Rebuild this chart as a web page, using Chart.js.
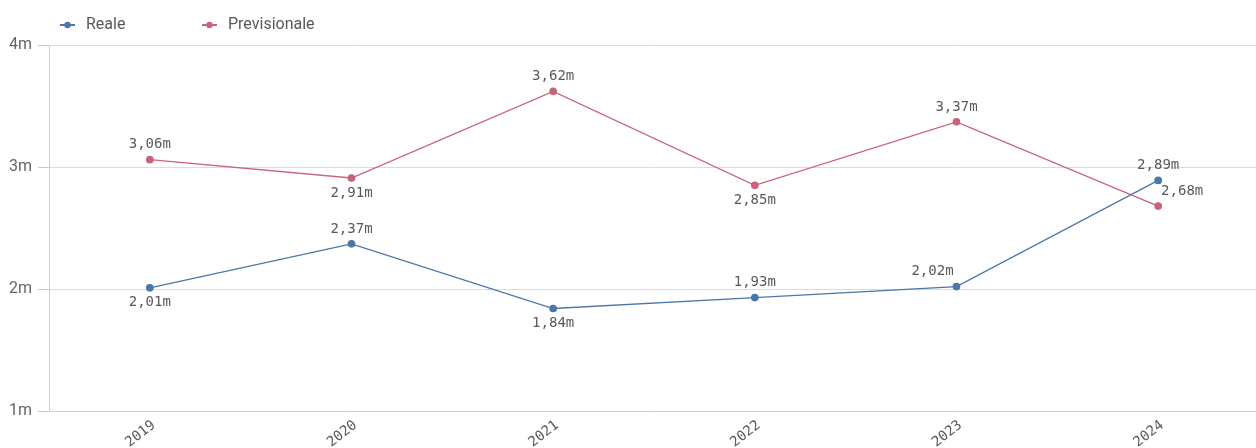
<!DOCTYPE html>
<html>
<head>
<meta charset="utf-8">
<script src="https://cdn.jsdelivr.net/npm/chart.js@4"></script>
<style>
  html, body { margin: 0; padding: 0; background: #fff; overflow: hidden; }
  #wrap { width: 1259px; height: 448px; position: relative; }
</style>
</head>
<body>
<div id="wrap"><canvas id="chart"></canvas></div>
<script>
// years on the x axis
var years = ['2019', '2020', '2021', '2022', '2023', '2024'];
// values in euro
var reale = [2010000, 2370000, 1840000, 1930000, 2020000, 2890000];
var previsionale = [3060000, 2910000, 3620000, 2850000, 3370000, 2680000];
var yTicks = [1000000, 2000000, 3000000, 4000000];

var BLUE = '#4a77a7';
var PINK = '#c8647a';
var TEXT = '#595959';
var MONO = '"DejaVu Sans Mono", "Liberation Mono", monospace';
var SANS = 'Roboto, "Liberation Sans", Arial, sans-serif';

// "2,01m"
function fmtM(v) {
  return (v / 1000000).toFixed(2).replace('.', ',') + 'm';
}

// value labels next to each point; pos = where the text sits
var valueLabels = {
  id: 'valueLabels',
  afterDatasetsDraw: function(chart) {
    var ctx = chart.ctx;
    ctx.save();
    ctx.font = '14px ' + MONO;
    ctx.fillStyle = TEXT;
    ctx.textAlign = 'center';
    ctx.textBaseline = 'middle';
    chart.data.datasets.forEach(function(ds, i) {
      var meta = chart.getDatasetMeta(i);
      meta.data.forEach(function(pt, j) {
        var pos = ds.labelPos[j];
        var x = pt.x, y = pt.y;
        if (pos === 'up') y -= 15;
        else if (pos === 'down') y += 15;
        else if (pos === 'upleft') { x -= 24; y -= 15; }
        else if (pos === 'upright') { x += 24; y -= 15; }
        ctx.fillText(fmtM(ds.data[j]), x, y);
      });
    });
    ctx.restore();
  }
};

// legend row at the top left: line + dot, then the name
var topLegend = {
  id: 'topLegend',
  afterDraw: function(chart) {
    var ctx = chart.ctx;
    var items = [[60, 'Reale', BLUE], [202, 'Previsionale', PINK]];
    ctx.save();
    ctx.font = '16px ' + SANS;
    ctx.textBaseline = 'middle';
    items.forEach(function(it) {
      var x = it[0], y = 25;
      ctx.strokeStyle = it[2];
      ctx.lineWidth = 2;
      ctx.beginPath();
      ctx.moveTo(x, y);
      ctx.lineTo(x + 15, y);
      ctx.stroke();
      ctx.fillStyle = it[2];
      ctx.beginPath();
      ctx.arc(x + 7.5, y, 3.2, 0, Math.PI * 2);
      ctx.fill();
      ctx.fillStyle = TEXT;
      ctx.fillText(it[1], x + 26, y);
    });
    ctx.restore();
  }
};

new Chart(document.getElementById('chart'), {
  type: 'line',
  data: {
    labels: years,
    datasets: [
      {
        label: 'Reale',
        data: reale,
        borderColor: BLUE,
        backgroundColor: BLUE,
        borderWidth: 1.3,
        pointRadius: 3.2,
        pointHoverRadius: 3.2,
        tension: 0,
        labelPos: ['down', 'up', 'down', 'up', 'upleft', 'up']
      },
      {
        label: 'Previsionale',
        data: previsionale,
        borderColor: PINK,
        backgroundColor: PINK,
        borderWidth: 1.3,
        pointRadius: 3.2,
        pointHoverRadius: 3.2,
        tension: 0,
        labelPos: ['up', 'down', 'up', 'down', 'up', 'upright']
      }
    ]
  },
  options: {
    responsive: true,
    maintainAspectRatio: false,
    animation: false,
    layout: { autoPadding: false, padding: { top: 45, right: 0, left: 0, bottom: 0 } },
    plugins: {
      legend: { display: false },
      tooltip: { enabled: false }
    },
    scales: {
      x: {
        offset: true,
        grid: { display: false, drawTicks: false },
        border: { color: '#d0d0d0' },
        ticks: {
          color: TEXT,
          font: { family: MONO, size: 14 },
          minRotation: 38,
          maxRotation: 38,
          labelOffset: 4,
          padding: 6
        },
        afterFit: function(scale) {
          scale.height = 37;
          scale.paddingLeft = 0;
          scale.paddingRight = 0;
        }
      },
      y: {
        min: 1000000,
        max: 4000000,
        afterBuildTicks: function(scale) {
          scale.ticks = yTicks.map(function(v) { return { value: v }; });
        },
        grid: { color: '#dcdcdc', tickLength: 11, tickColor: '#c8c8c8' },
        border: { color: '#d0d0d0' },
        ticks: {
          color: '#666',
          font: { family: SANS, size: 16 },
          padding: 6,
          callback: function(v) { return (v / 1000000) + 'm'; }
        },
        afterFit: function(scale) { scale.width = 49; }
      }
    }
  },
  plugins: [valueLabels, topLegend]
});
</script>
</body>
</html>
